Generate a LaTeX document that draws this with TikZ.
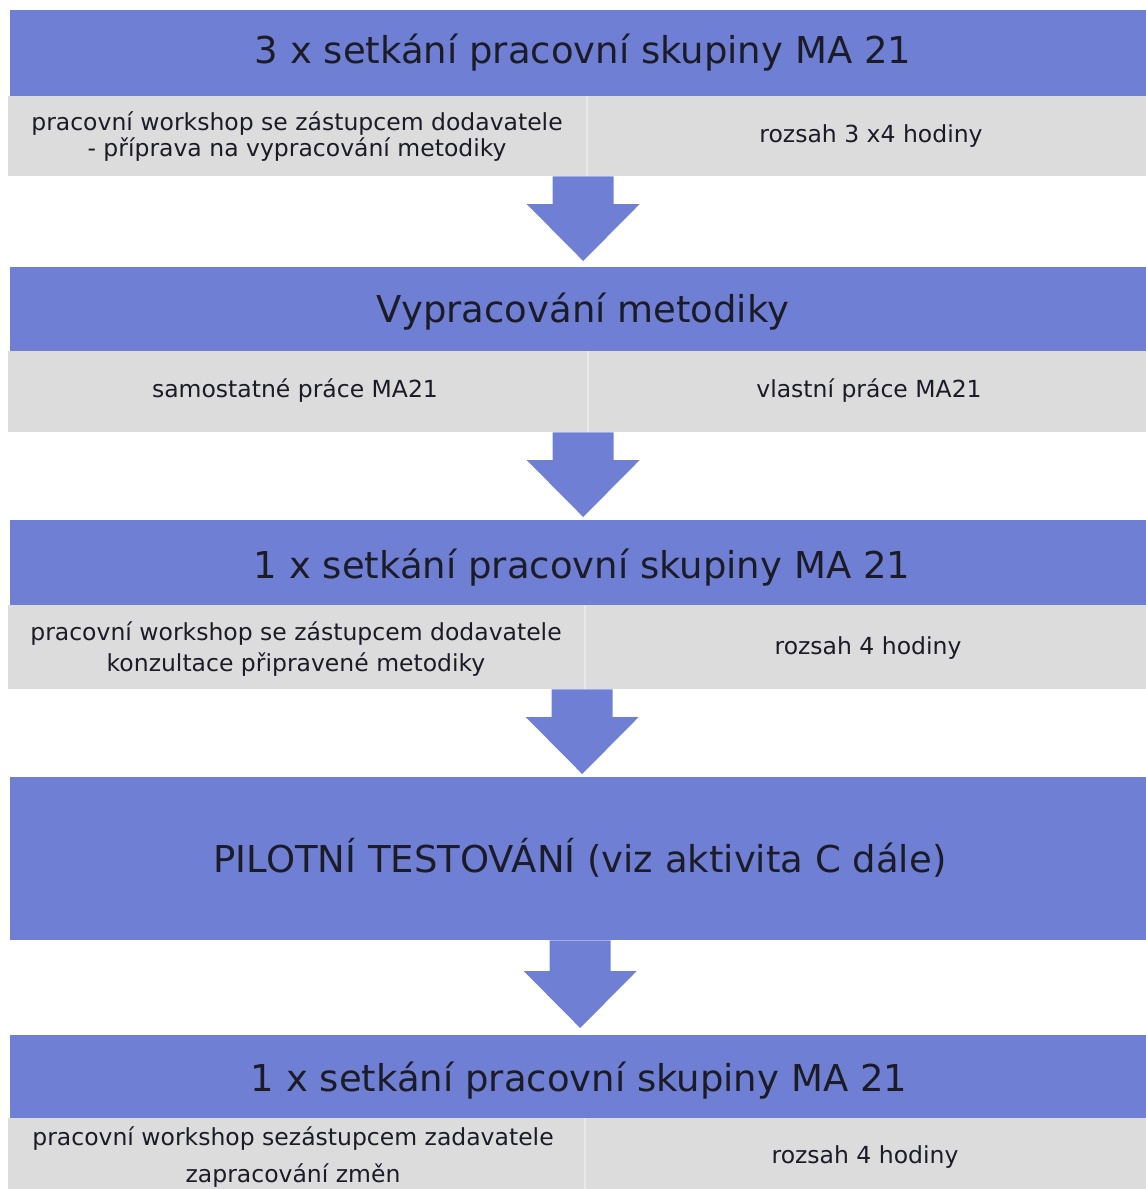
\documentclass[tikz,border=0pt]{standalone}
\usepackage{fontspec}
\setmainfont{DejaVu Sans}
\usetikzlibrary{calc}
\definecolor{hblue}{HTML}{6F80D4}
\definecolor{cgray}{HTML}{DCDCDC}
\definecolor{cdiv}{HTML}{E8E8E8}
\definecolor{txt}{HTML}{1C1C28}
\newcommand\blkarrow[2]{\fill[hblue] let \p1=(#1), \p2=(#2) in
  (\x1-30.5pt,\y1) -- (\x1+30.5pt,\y1) -- (\x1+30.5pt,\y2+57pt) -- (\x1+56.5pt,\y2+57pt)
  -- (\x2,\y2) -- (\x1-56.5pt,\y2+57pt) -- (\x1-30.5pt,\y2+57pt) -- cycle;}
\begin{document}
\begin{tikzpicture}[x=1pt,y=-1pt,
  bluebar/.style={fill=hblue, draw=none, anchor=north west, inner sep=0pt, minimum width=1136pt},
  graybar/.style={fill=cgray, draw=none, anchor=north west, inner sep=0pt, minimum width=1138pt},
  headtext/.style={anchor=base, text=txt, inner sep=0pt, font=\fontsize{37}{44}\selectfont},
  subtext/.style={anchor=center, text=txt, inner sep=0pt, align=center, font=\fontsize{23.5}{#1}\selectfont},
  subtext/.default=26,
  divider/.style={draw=cdiv, line width=1.5pt}]
\useasboundingbox (0,0) rectangle (1146,1189);
\fill[white] (0,0) rectangle (1146,1189);

% block 1
\node[bluebar, minimum height=86pt] (h1) at (10,10) {};
\node[graybar, minimum height=80pt] (g1) at (8,96) {};
\draw[divider] ($(g1.north west)+(579,0)$) -- ($(g1.south west)+(579,0)$);
\node[headtext] (t1) at (583,63) {3 x setkání pracovní skupiny MA 21};
\node[subtext] (s1l) at (297,137) {pracovní workshop se zástupcem dodavatele\\- příprava na vypracování metodiky};
\node[subtext] (s1r) at (871,136) {rozsah 3 x4 hodiny};

% block 2
\node[bluebar, minimum height=84pt] (h2) at (10,267) {};
\node[graybar, minimum height=81pt] (g2) at (8,351) {};
\draw[divider] ($(g2.north west)+(580,0)$) -- ($(g2.south west)+(580,0)$);
\node[headtext] (t2) at (583,322) {Vypracování metodiky};
\node[subtext] (s2l) at (295,391) {samostatné práce MA21};
\node[subtext] (s2r) at (869,391) {vlastní práce MA21};

% block 3
\node[bluebar, minimum height=85pt] (h3) at (10,520) {};
\node[graybar, minimum height=84pt] (g3) at (8,605) {};
\draw[divider] ($(g3.north west)+(577,0)$) -- ($(g3.south west)+(577,0)$);
\node[headtext] (t3) at (582,578) {1 x setkání pracovní skupiny MA 21};
\node[subtext=31] (s3l) at (296,649) {pracovní workshop se zástupcem dodavatele\\konzultace připravené metodiky};
\node[subtext] (s3r) at (868,648) {rozsah 4 hodiny};

% block 4
\node[bluebar, minimum height=163pt] (h4) at (10,777) {};
\node[headtext] (t4) at (580,872) {PILOTNÍ TESTOVÁNÍ (viz aktivita C dále)};

% block 5
\node[bluebar, minimum height=83pt] (h5) at (10,1035) {};
\node[graybar, minimum height=71pt] (g5) at (8,1118) {};
\draw[divider] ($(g5.north west)+(577,0)$) -- ($(g5.south west)+(577,0)$);
\node[headtext] (t5) at (579,1091) {1 x setkání pracovní skupiny MA 21};
\node[subtext=37] (s5l) at (293,1157) {pracovní workshop sezástupcem zadavatele\\zapracování změn};
\node[subtext] (s5r) at (865,1157) {rozsah 4 hodiny};

% arrows
\blkarrow{$(g1.south)+(6,0)$}{$(h2.north)+(5,-6)$}
\blkarrow{$(g2.south)+(6,0)$}{$(h3.north)+(5,-3)$}
\blkarrow{$(g3.south)+(5,0)$}{$(h4.north)+(4,-3)$}
\blkarrow{$(h4.south)+(2,0)$}{$(h5.north)+(2,-7)$}
\end{tikzpicture}
\end{document}
